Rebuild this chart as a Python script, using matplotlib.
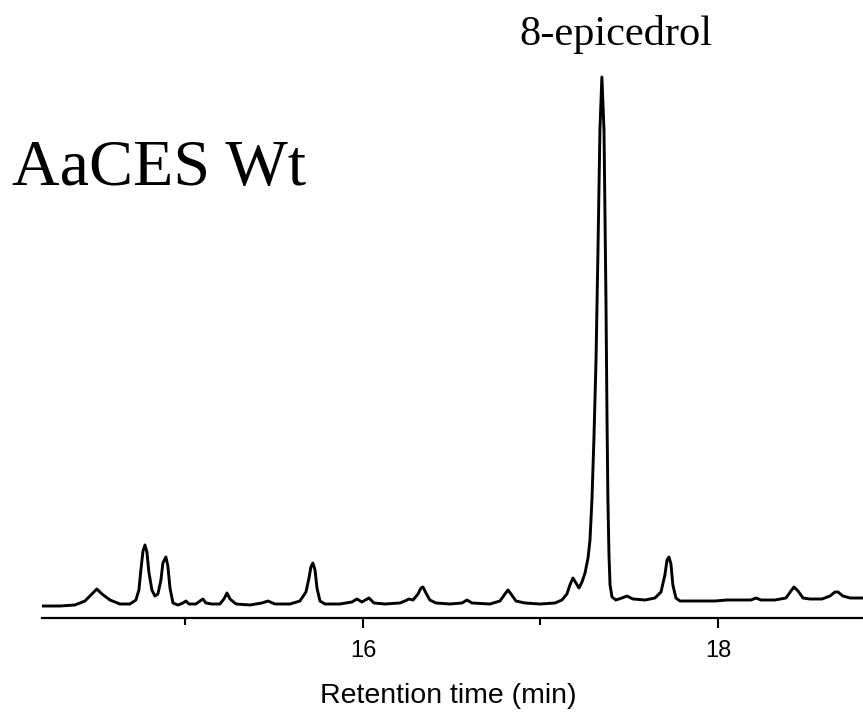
import matplotlib
matplotlib.use("Agg")
import matplotlib.pyplot as plt
from matplotlib.ticker import FixedLocator

# Retention time (min) and detector signal (arbitrary units)
time_min = [
    14.192, 14.293, 14.377, 14.434, 14.473, 14.501, 14.530, 14.575, 14.631, 14.687,
    14.721, 14.738, 14.749, 14.761, 14.772, 14.783, 14.794, 14.811, 14.828, 14.845,
    14.862, 14.873, 14.890, 14.901, 14.913, 14.930, 14.958, 14.986, 15.003, 15.020,
    15.059, 15.082, 15.099, 15.115, 15.149, 15.194, 15.217, 15.234, 15.251, 15.285,
    15.363, 15.431, 15.465, 15.504, 15.589, 15.645, 15.679, 15.696, 15.707, 15.718,
    15.730, 15.741, 15.758, 15.786, 15.870, 15.938, 15.966, 15.994, 16.034, 16.062,
    16.124, 16.208, 16.237, 16.259, 16.282, 16.310, 16.327, 16.338, 16.355, 16.377,
    16.411, 16.490, 16.558, 16.586, 16.614, 16.715, 16.772, 16.800, 16.817, 16.834,
    16.862, 16.913, 16.997, 17.082, 17.121, 17.149, 17.166, 17.183, 17.200, 17.217,
    17.234, 17.251, 17.268, 17.279, 17.290, 17.301, 17.313, 17.324, 17.335, 17.346,
    17.358, 17.369, 17.375, 17.380, 17.386, 17.392, 17.403, 17.425, 17.459, 17.487,
    17.521, 17.589, 17.645, 17.679, 17.701, 17.713, 17.724, 17.735, 17.746, 17.763,
    17.786, 17.899, 17.983, 18.051, 18.124, 18.186, 18.214, 18.242, 18.321, 18.383,
    18.411, 18.428, 18.451, 18.479, 18.518, 18.586, 18.631, 18.659, 18.676, 18.704,
    18.744, 18.817,
]
signal = [
    -1, -1, 0, 4, 11, 16, 11, 5, 1, 1,
    5, 15, 35, 54, 60, 53, 33, 15, 9, 11,
    25, 42, 48, 39, 17, 2, 0, 2, 4, 1,
    1, 4, 6, 2, 1, 1, 6, 12, 6, 1,
    0, 2, 4, 1, 1, 4, 13, 27, 38, 42,
    35, 17, 4, 1, 1, 3, 6, 3, 7, 2,
    1, 2, 4, 6, 5, 11, 17, 18, 12, 5,
    2, 1, 2, 5, 2, 1, 4, 11, 15, 11,
    4, 2, 1, 2, 5, 11, 20, 27, 22, 17,
    23, 32, 47, 65, 105, 165, 245, 355, 475, 528,
    475, 305, 185, 105, 50, 20, 8, 5, 7, 9,
    6, 5, 7, 13, 30, 45, 48, 41, 20, 7,
    4, 4, 4, 5, 5, 5, 7, 5, 5, 7,
    14, 18, 14, 7, 6, 6, 9, 13, 13, 9,
    7, 7,
]
major_ticks = [16, 18]
minor_ticks = [15, 17]
peak_label = "8-epicedrol"
sample_label = "AaCES Wt"
x_label = "Retention time (min)"

fig = plt.figure(figsize=(8.63, 7.12), dpi=100)
ax = fig.add_axes([42 / 863, (712 - 618) / 712, 1 - 42 / 863, 618 / 712])
ax.plot(time_min, signal, color="black", lw=2.1, solid_joinstyle="round")
ax.set_xlim(14.192, 18.817)
ax.set_ylim(-13, 605)

for s in ("left", "top", "right"):
    ax.spines[s].set_visible(False)
ax.spines["bottom"].set_linewidth(1.6)
ax.set_yticks([])
ax.xaxis.set_major_locator(FixedLocator(major_ticks))
ax.xaxis.set_minor_locator(FixedLocator(minor_ticks))
ax.tick_params(axis="x", which="major", length=7.2, width=1.5, pad=8.5,
               labelsize=17, labelfontfamily="Liberation Sans")
ax.tick_params(axis="x", which="minor", length=5, width=1.5)
ax.set_xlabel(x_label, fontsize=20.5, family="Liberation Sans")
ax.xaxis.set_label_coords(448 / 863, 1 - 703 / 712, transform=fig.transFigure)
ax.xaxis.label.set_va("baseline")

fig.text(616 / 863, 1 - 45 / 712, peak_label, ha="center", va="baseline",
         fontsize=30.5, family="Liberation Serif")
fig.text(12 / 863, 1 - 185 / 712, sample_label, ha="left", va="baseline",
         fontsize=47.5, family="Liberation Serif")

fig.savefig("out.png", dpi=100)
